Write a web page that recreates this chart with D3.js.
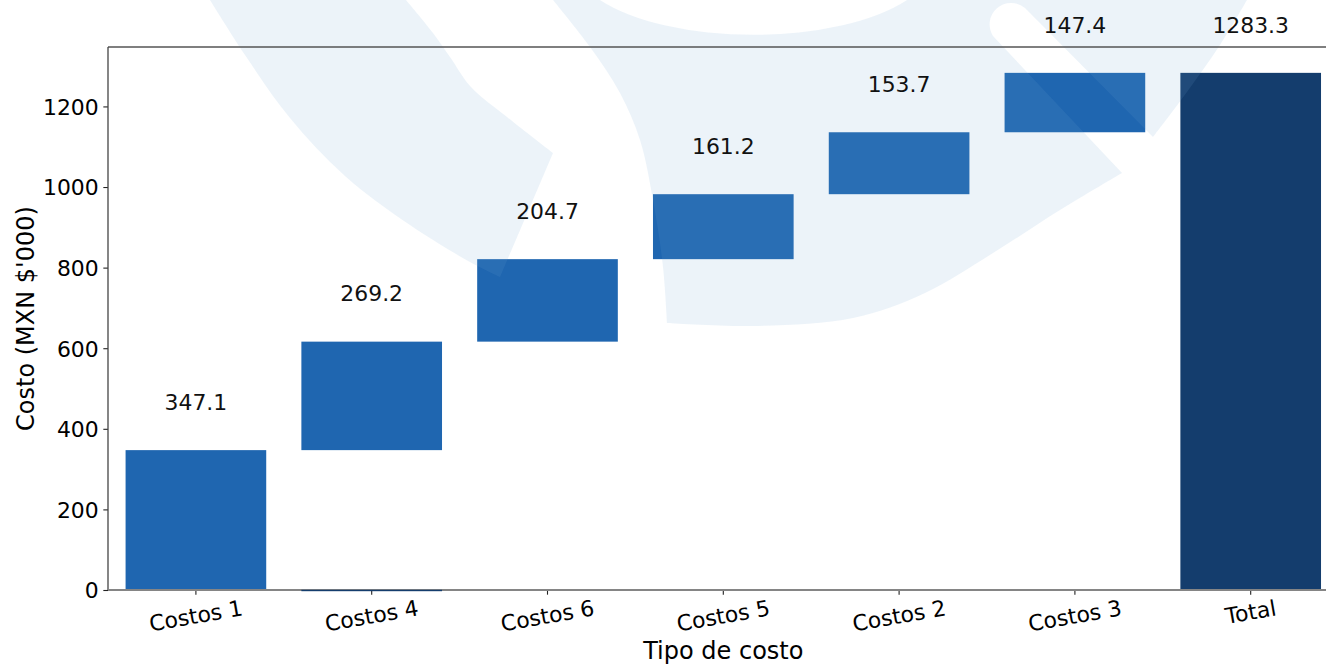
<!DOCTYPE html>
<html>
<head>
<meta charset="utf-8">
<script src="https://cdn.jsdelivr.net/npm/d3@7"></script>
<style>
  html, body { margin: 0; padding: 0; background: #ffffff; }
  svg { display: block; }
  text { font-family: "DejaVu Sans", sans-serif; }
</style>
</head>
<body>
<script>
// ---------------- data ----------------
const categories = ["Costos 1", "Costos 4", "Costos 6", "Costos 5", "Costos 2", "Costos 3"];
const totalLabel = "Total";
const costValues = [347.1, 269.2, 204.7, 161.2, 153.7, 147.4];
const yTickValues = [0, 200, 400, 600, 800, 1000, 1200];
const baselineMarkers = ["Costos 4"];
const yAxisTitle = "Costo (MXN $'000)";
const xAxisTitle = "Tipo de costo";

// ---------------- derived ----------------
let run = 0;
const steps = categories.map((c, i) => {
  const start = run;
  run += costValues[i];
  return { cat: c, start: start, end: run, value: costValues[i], total: false };
});
const totalValue = Math.round(run * 10) / 10;
steps.push({ cat: totalLabel, start: 0, end: totalValue, value: totalValue, total: true });
const allCats = steps.map(d => d.cat);

// ---------------- layout ----------------
const W = 1326, H = 664;
const mLeft = 108, mTop = 47, mBottom = 590;
const mRight = 1338.6;
const barColor = "#1f66b0";
const totalColor = "#143d6d";
const tickFont = 21.9;

const svg = d3.select("body").append("svg").attr("width", W).attr("height", H);

const x = d3.scaleBand().domain(allCats).range([mLeft, mRight]).paddingInner(0.2).paddingOuter(0.1);
const y = d3.scaleLinear().domain([0, totalValue * 1.05]).range([mBottom, mTop]);

// bars
svg.append("g").selectAll("rect").data(steps).join("rect")
  .attr("x", d => x(d.cat))
  .attr("width", x.bandwidth())
  .attr("y", d => y(d.end))
  .attr("height", d => y(d.start) - y(d.end))
  .attr("fill", d => d.total ? totalColor : barColor);

// watermark logo (background decoration)
const cr = d3.line().curve(d3.curveCatmullRom.alpha(0.5));
function joinParts(parts) {
  return parts.map((p, i) => i === 0 ? p : "L" + p.substring(1)).join("");
}
const shapeA = joinParts([
  cr([[210,0],[245,55],[290,118],[345,176],[410,225],[470,262],[500,277]]),
  cr([[500,277],[553,153]]),
  cr([[553,153],[507,117],[471,87],[450,57],[433,33],[406,0]])
]) + "Z";
const shapeB = joinParts([
  cr([[553,0],[590,47],[620,93],[640,140],[653,200],[663,267],[667,323]]),
  cr([[667,323],[753,326],[853,318],[925,293],[993,253],[1060,210],[1122,173]]),
  cr([[1122,173],[993,36]])
]) + "A21.5 21.5 0 0 1 1025 8" +
  "L1153,137" +
  "L" + cr([[1153,137],[1187,92],[1220,45],[1247,0]]).substring(1) +
  "L907,0A180 73 0 0 1 600 0Z";
svg.append("g")
  .attr("fill", "rgb(113,167,209)")
  .attr("fill-opacity", 0.135)
  .selectAll("path").data([shapeA, shapeB]).join("path")
  .attr("d", d => d);

// y axis
const yAxis = svg.append("g")
  .attr("transform", `translate(${mLeft},0)`)
  .call(d3.axisLeft(y).tickValues(yTickValues).tickSize(4.67).tickPadding(4.67).tickFormat(d3.format("d")));
yAxis.select(".domain").remove();
yAxis.selectAll(".tick line").attr("stroke", "#222").attr("stroke-width", 1.1);
yAxis.selectAll(".tick text").attr("font-size", tickFont).attr("fill", "#000")
  .attr("font-family", "DejaVu Sans").attr("dy", "0.36em");

// x axis ticks
const xAxis = svg.append("g")
  .attr("transform", `translate(0,${mBottom})`)
  .call(d3.axisBottom(x).tickSize(4.67).tickFormat(""));
xAxis.select(".domain").remove();
xAxis.selectAll(".tick line").attr("stroke", "#222").attr("stroke-width", 1.1);

// rotated x tick labels
const ang = 10 * Math.PI / 180;
const xl = svg.append("g");
allCats.forEach(c => {
  const t = xl.append("text")
    .attr("font-size", tickFont)
    .attr("fill", "#000")
    .attr("text-anchor", "middle")
    .attr("dominant-baseline", "central")
    .text(c);
  const w = t.node().getComputedTextLength();
  const h = 24.8;
  const cy = 595.5 + (w * Math.sin(ang) + h * Math.cos(ang)) / 2;
  t.attr("transform", `translate(${x(c) + x.bandwidth() / 2},${cy}) rotate(-10)`);
});

// spines
svg.append("line").attr("x1", mLeft).attr("x2", mRight).attr("y1", mTop).attr("y2", mTop)
  .attr("stroke", "#555").attr("stroke-width", 1.3);
svg.append("line").attr("x1", mLeft).attr("x2", mLeft).attr("y1", mTop).attr("y2", mBottom)
  .attr("stroke", "#444").attr("stroke-width", 1.3);
svg.append("line").attr("x1", mLeft).attr("x2", mRight).attr("y1", mBottom).attr("y2", mBottom)
  .attr("stroke", "#858585").attr("stroke-width", 2);

// baseline markers (zero-height dark bar)
svg.append("g").selectAll("rect").data(baselineMarkers).join("rect")
  .attr("x", d => x(d))
  .attr("width", x.bandwidth())
  .attr("y", y(0) - 0.2)
  .attr("height", 1.4)
  .attr("fill", totalColor);

// value labels
svg.append("g").selectAll("text").data(steps).join("text")
  .attr("x", d => x(d.cat) + x.bandwidth() / 2)
  .attr("y", d => y(d.end + 100))
  .attr("text-anchor", "middle")
  .attr("font-size", tickFont)
  .attr("fill", "#111")
  .text(d => d3.format(".1f")(d.value));

// axis titles
svg.append("text")
  .attr("transform", `translate(34,${(mTop + mBottom) / 2}) rotate(-90)`)
  .attr("text-anchor", "middle")
  .attr("font-size", 24)
  .attr("fill", "#000")
  .text(yAxisTitle);
svg.append("text")
  .attr("x", (mLeft + mRight) / 2)
  .attr("y", 659)
  .attr("text-anchor", "middle")
  .attr("font-size", 24)
  .attr("fill", "#000")
  .text(xAxisTitle);
</script>
</body>
</html>
